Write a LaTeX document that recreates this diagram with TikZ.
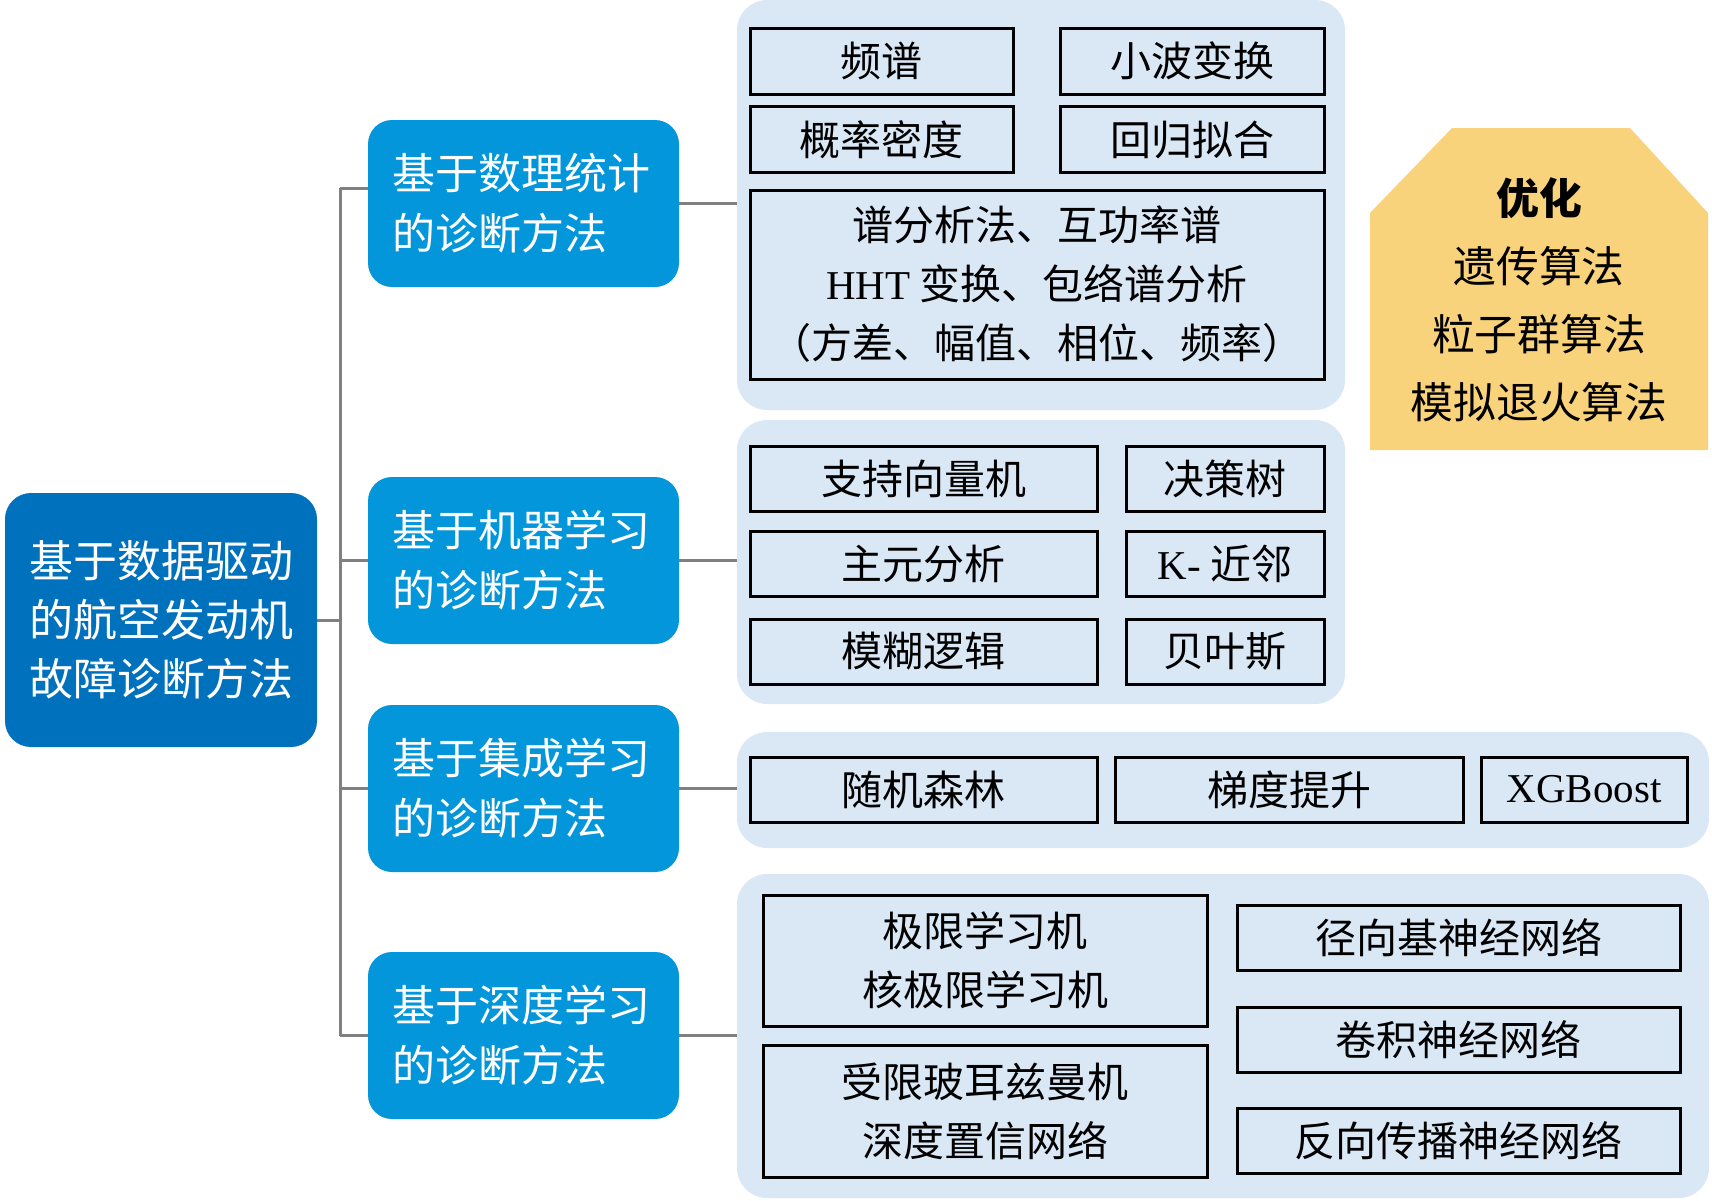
\documentclass[tikz,border=0pt]{standalone}
\usepackage{fontspec}
\setmainfont{Noto Sans CJK SC}
\newfontfamily\lat{Liberation Serif}
\definecolor{rootblue}{RGB}{0,113,188}
\definecolor{subblue}{RGB}{3,150,219}
\definecolor{panelblue}{RGB}{218,232,246}
\definecolor{optorange}{RGB}{249,210,124}
\definecolor{linegray}{RGB}{128,128,128}
\begin{document}
\begin{tikzpicture}[x=0.5pt,y=-0.5pt,
    rootbox/.style={fill=rootblue,rounded corners=13pt,text=white,minimum width=156pt,
      minimum height=127pt,align=center,font=\fontsize{22}{29.5}\selectfont},
    subbox/.style={fill=subblue,rounded corners=12pt,text=white,minimum width=155.5pt,
      minimum height=83.5pt,text width=131pt,align=left,font=\fontsize{21.5}{30}\selectfont},
    panel/.style={fill=panelblue,rounded corners=15pt,inner sep=0pt},
    leaf/.style={draw=black,line width=1.5pt,inner sep=0pt,align=center,
      font=\fontsize{20.5}{29.5}\selectfont},
    conn/.style={draw=linegray,line width=1.5pt}]
\useasboundingbox (0,0) rectangle (1712,1200);

% background panels
\node[panel,minimum width=304pt,minimum height=205pt] (p1) at (1041,205) {};
\node[panel,minimum width=304pt,minimum height=142pt] (p2) at (1041,562) {};
\node[panel,minimum width=486pt,minimum height=58pt] (p3) at (1223,790) {};
\node[panel,minimum width=486pt,minimum height=162pt] (p4) at (1223,1036) {};

% root and categories
\node[rootbox] (root) at (161,620) {基于数据驱动\\的航空发动机\\故障诊断方法};
\node[subbox] (sub1) at (523.5,203.5) {基于数理统计\\的诊断方法};
\node[subbox] (sub2) at (523.5,560.5) {基于机器学习\\的诊断方法};
\node[subbox] (sub3) at (523.5,788.5) {基于集成学习\\的诊断方法};
\node[subbox] (sub4) at (523.5,1035.5) {基于深度学习\\的诊断方法};

% statistics
\node[leaf,minimum width=131.5pt,minimum height=33pt] (pinpu) at (881.5,61) {频谱};
\node[leaf,minimum width=132pt,minimum height=33pt] (xiaobo) at (1192,61) {小波变换};
\node[leaf,minimum width=131.5pt,minimum height=33pt] (gailv) at (881.5,139.5) {概率密度};
\node[leaf,minimum width=132pt,minimum height=33pt] (huigui) at (1192,139.5) {回归拟合};
\node[leaf,minimum width=287pt,minimum height=94.5pt] (pufx) at (1037,284.5)
  {谱分析法、互功率谱\\{\lat HHT} 变换、包络谱分析\\（方差、幅值、相位、频率）};

% machine learning
\node[leaf,minimum width=173.5pt,minimum height=32.5pt] (svm) at (923.5,478.5) {支持向量机};
\node[leaf,minimum width=99pt,minimum height=32.5pt] (jcs) at (1225,478.5) {决策树};
\node[leaf,minimum width=173.5pt,minimum height=32.5pt] (zyfx) at (923.5,564) {主元分析};
\node[leaf,minimum width=99pt,minimum height=32.5pt] (knn) at (1225,564) {{\lat K-} 近邻};
\node[leaf,minimum width=173.5pt,minimum height=32.5pt] (mhlj) at (923.5,651.5) {模糊逻辑};
\node[leaf,minimum width=99pt,minimum height=32.5pt] (bys) at (1225,651.5) {贝叶斯};

% ensemble learning
\node[leaf,minimum width=173.5pt,minimum height=32.5pt] (sjsl) at (923.5,789.5) {随机森林};
\node[leaf,minimum width=174pt,minimum height=32.5pt] (tdts) at (1289,789.5) {梯度提升};
\node[leaf,minimum width=103pt,minimum height=32.5pt] (xgb) at (1584,789.5) {\lat XGBoost};

% deep learning
\node[leaf,minimum width=222pt,minimum height=65.5pt] (jxxx) at (985,960.5) {极限学习机\\核极限学习机};
\node[leaf,minimum width=222pt,minimum height=66pt] (sxbe) at (985,1111) {受限玻耳兹曼机\\深度置信网络};
\node[leaf,minimum width=221.5pt,minimum height=32.5pt] (jxj) at (1458.5,937.5) {径向基神经网络};
\node[leaf,minimum width=221.5pt,minimum height=32.5pt] (jjsj) at (1458.5,1039.5) {卷积神经网络};
\node[leaf,minimum width=221.5pt,minimum height=32.5pt] (fxcb) at (1458.5,1141) {反向传播神经网络};

% optimisation
\fill[optorange] (1370,450) -- (1370,213) -- (1452,128) -- (1630,128) -- (1708,213) -- (1708,450) -- cycle;
\node[align=center,font=\fontsize{21.4}{34}\selectfont] (youhua) at (1539,300)
  {{\bfseries 优化}\\遗传算法\\粒子群算法\\模拟退火算法};

% connectors
\coordinate (trunktop) at (340,188);
\coordinate (trunkbot) at (340,1035.5);
\draw[conn] (trunktop) -- (trunkbot);
\draw[conn] (trunktop) -- (trunktop -| sub1.west);
\draw[conn] (root.east) -- (root.east -| trunktop);
\foreach \s in {sub2,sub3,sub4}
  \draw[conn] (\s.west) -- (\s.west -| trunktop);
\foreach \s/\p in {sub1/p1,sub2/p2,sub3/p3,sub4/p4}
  \draw[conn] (\s.east) -- (\s.east -| \p.west);
\end{tikzpicture}
\end{document}
